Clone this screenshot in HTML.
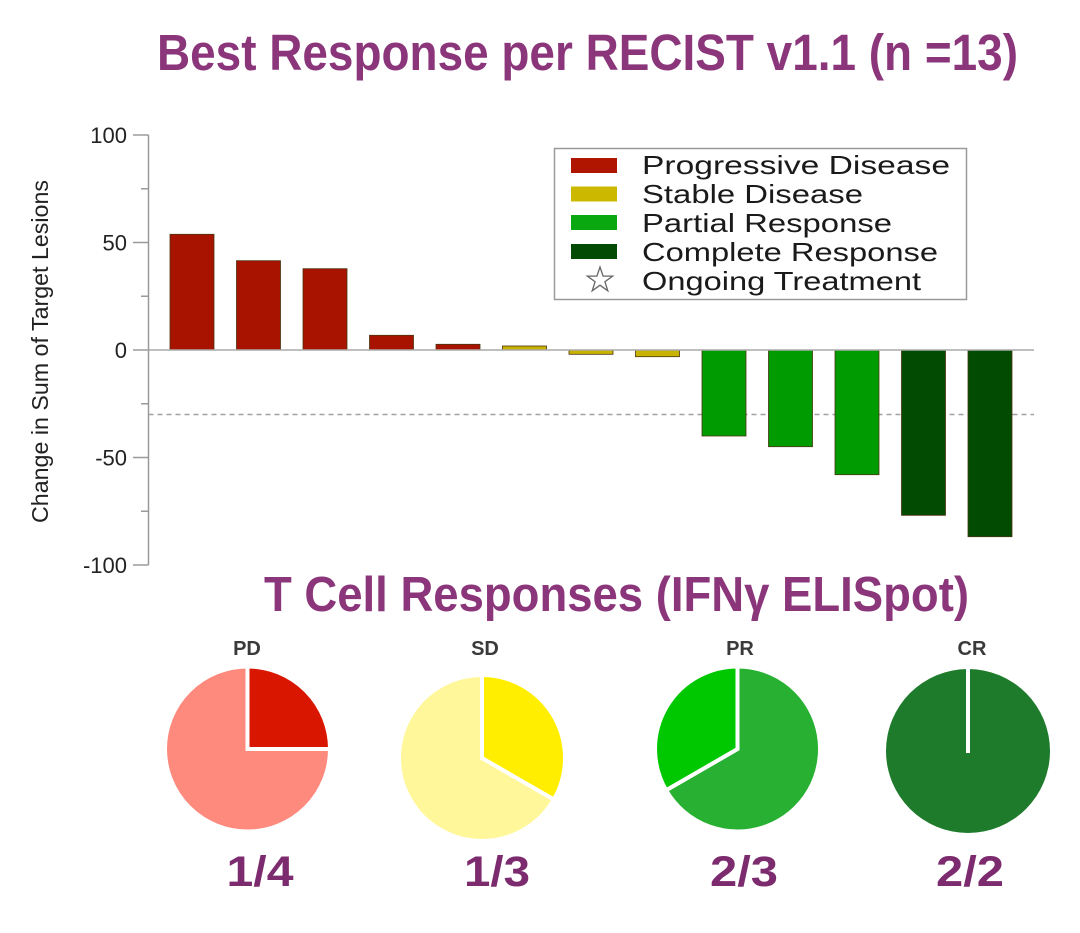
<!DOCTYPE html>
<html>
<head>
<meta charset="utf-8">
<style>
  html, body { margin: 0; padding: 0; background: #ffffff; }
  svg { display: block; }
  text { font-family: "Liberation Sans", "DejaVu Sans", sans-serif; }
</style>
</head>
<body>
<svg width="1080" height="933" viewBox="0 0 1080 933" xmlns="http://www.w3.org/2000/svg">
  <rect x="0" y="0" width="1080" height="933" fill="#ffffff"/>

  <!-- Main title -->
  <text x="157" y="70" font-size="51" font-weight="bold" fill="#8B367B" textLength="861" lengthAdjust="spacingAndGlyphs">Best Response per RECIST v1.1 (n =13)</text>

  <!-- Y axis -->
  <line x1="148.5" y1="135" x2="148.5" y2="565" stroke="#9a9a9a" stroke-width="1.5"/>
  <g stroke="#9a9a9a" stroke-width="1.5">
    <line x1="133" y1="135" x2="148.5" y2="135"/>
    <line x1="133" y1="242.5" x2="148.5" y2="242.5"/>
    <line x1="133" y1="350" x2="148.5" y2="350"/>
    <line x1="133" y1="457.5" x2="148.5" y2="457.5"/>
    <line x1="133" y1="565" x2="148.5" y2="565"/>
    <line x1="141" y1="188.75" x2="148.5" y2="188.75"/>
    <line x1="141" y1="296.25" x2="148.5" y2="296.25"/>
    <line x1="141" y1="403.75" x2="148.5" y2="403.75"/>
    <line x1="141" y1="511.25" x2="148.5" y2="511.25"/>
  </g>
  <g font-size="22" fill="#222222" text-anchor="end">
    <text x="127" y="143">100</text>
    <text x="127" y="250.5">50</text>
    <text x="127" y="358">0</text>
    <text x="127" y="465.5">-50</text>
    <text x="127" y="573">-100</text>
  </g>

  <!-- Y axis title -->
  <text transform="translate(48,351.5) rotate(-90)" font-size="23" fill="#222222" text-anchor="middle" textLength="343" lengthAdjust="spacingAndGlyphs">Change in Sum of Target Lesions</text>

  <!-- dashed -30% line -->
  <line x1="148.5" y1="414.5" x2="1034" y2="414.5" stroke="#a0a0a0" stroke-width="1.5" stroke-dasharray="5 4"/>

  <!-- Bars -->
  <g stroke="#4a3410" stroke-width="0.8">
    <rect x="170" y="234.3" width="44" height="115.7" fill="#A81300"/>
    <rect x="236.5" y="260.7" width="44" height="89.3" fill="#A81300"/>
    <rect x="303" y="268.7" width="44" height="81.3" fill="#A81300"/>
    <rect x="369.5" y="335.3" width="44" height="14.7" fill="#A81300"/>
    <rect x="436" y="344.3" width="44" height="5.7" fill="#A81300"/>
    <rect x="502.5" y="346" width="44" height="4" fill="#C8B400"/>
    <rect x="569" y="350" width="44" height="4.3" fill="#C8B400"/>
    <rect x="635.5" y="350" width="44" height="6.7" fill="#C8B400"/>
    <rect x="702" y="350" width="44" height="86" fill="#009B00"/>
    <rect x="768.5" y="350" width="44" height="96.7" fill="#009B00"/>
    <rect x="835" y="350" width="44" height="124.7" fill="#009B00"/>
    <rect x="901.5" y="350" width="44" height="165.3" fill="#024B02"/>
    <rect x="968" y="350" width="44" height="186.7" fill="#024B02"/>
  </g>

  <!-- zero line -->
  <line x1="148.5" y1="350" x2="1034" y2="350" stroke="#aaaaaa" stroke-width="1.5"/>

  <!-- Legend -->
  <rect x="554.5" y="148.5" width="412" height="151" fill="#ffffff" stroke="#9a9a9a" stroke-width="1.5"/>
  <rect x="571" y="158" width="46" height="15" fill="#B01500"/>
  <rect x="571" y="186.5" width="46" height="15" fill="#CDB800"/>
  <rect x="571" y="215" width="46" height="15" fill="#09A810"/>
  <rect x="571" y="244" width="46" height="15" fill="#034A05"/>
  <polygon points="600,267 603.1,276.1 612.6,276.1 604.9,281.7 607.8,290.8 600,285.2 592.2,290.8 595.1,281.7 587.4,276.1 596.9,276.1" fill="none" stroke="#666666" stroke-width="1.3"/>
  <g font-size="26" fill="#1a1a1a">
    <text x="642" y="174" textLength="308" lengthAdjust="spacingAndGlyphs">Progressive Disease</text>
    <text x="642" y="203" textLength="221" lengthAdjust="spacingAndGlyphs">Stable Disease</text>
    <text x="642" y="232" textLength="250" lengthAdjust="spacingAndGlyphs">Partial Response</text>
    <text x="642" y="261" textLength="296" lengthAdjust="spacingAndGlyphs">Complete Response</text>
    <text x="642" y="290" textLength="279" lengthAdjust="spacingAndGlyphs">Ongoing Treatment</text>
  </g>

  <!-- Second title -->
  <text x="264" y="611" font-size="49" font-weight="bold" fill="#8B367B" textLength="705" lengthAdjust="spacingAndGlyphs">T Cell Responses (IFNγ ELISpot)</text>

  <!-- Pie labels -->
  <g font-size="20" font-weight="bold" fill="#3a3a3a" text-anchor="middle">
    <text x="247" y="655">PD</text>
    <text x="485" y="655">SD</text>
    <text x="740" y="655">PR</text>
    <text x="972" y="655">CR</text>
  </g>

  <!-- PD pie -->
  <g stroke="#ffffff" stroke-width="4" stroke-linejoin="miter">
    <path d="M247.5,749 L330,749 A82.5,82.5 0 1 1 247.5,666.5 Z" fill="#FE8A7E"/>
    <path d="M247.5,749 L247.5,666.5 A82.5,82.5 0 0 1 330,749 Z" fill="#D91600"/>
  </g>

  <!-- SD pie -->
  <g stroke="#ffffff" stroke-width="4">
    <path d="M482,758 L553.9,799.5 A83,83 0 1 1 482,675 Z" fill="#FFF79A"/>
    <path d="M482,758 L482,675 A83,83 0 0 1 553.9,799.5 Z" fill="#FFEE00"/>
  </g>

  <!-- PR pie -->
  <g stroke="#ffffff" stroke-width="4">
    <path d="M737.5,749 L737.5,666.5 A82.5,82.5 0 1 1 666.1,790.25 Z" fill="#27B032"/>
    <path d="M737.5,749 L666.1,790.25 A82.5,82.5 0 0 1 737.5,666.5 Z" fill="#00C800"/>
  </g>

  <!-- CR pie -->
  <circle cx="968" cy="751" r="82" fill="#1E7B2B"/>
  <line x1="968" y1="667" x2="968" y2="753" stroke="#ffffff" stroke-width="4"/>

  <!-- Fractions -->
  <g font-size="43" font-weight="bold" fill="#7D2B6F" text-anchor="middle">
    <text x="260" y="886" textLength="67" lengthAdjust="spacingAndGlyphs">1/4</text>
    <text x="497" y="886" textLength="66" lengthAdjust="spacingAndGlyphs">1/3</text>
    <text x="744" y="886" textLength="68" lengthAdjust="spacingAndGlyphs">2/3</text>
    <text x="970" y="886" textLength="68" lengthAdjust="spacingAndGlyphs">2/2</text>
  </g>
</svg>
</body>
</html>
